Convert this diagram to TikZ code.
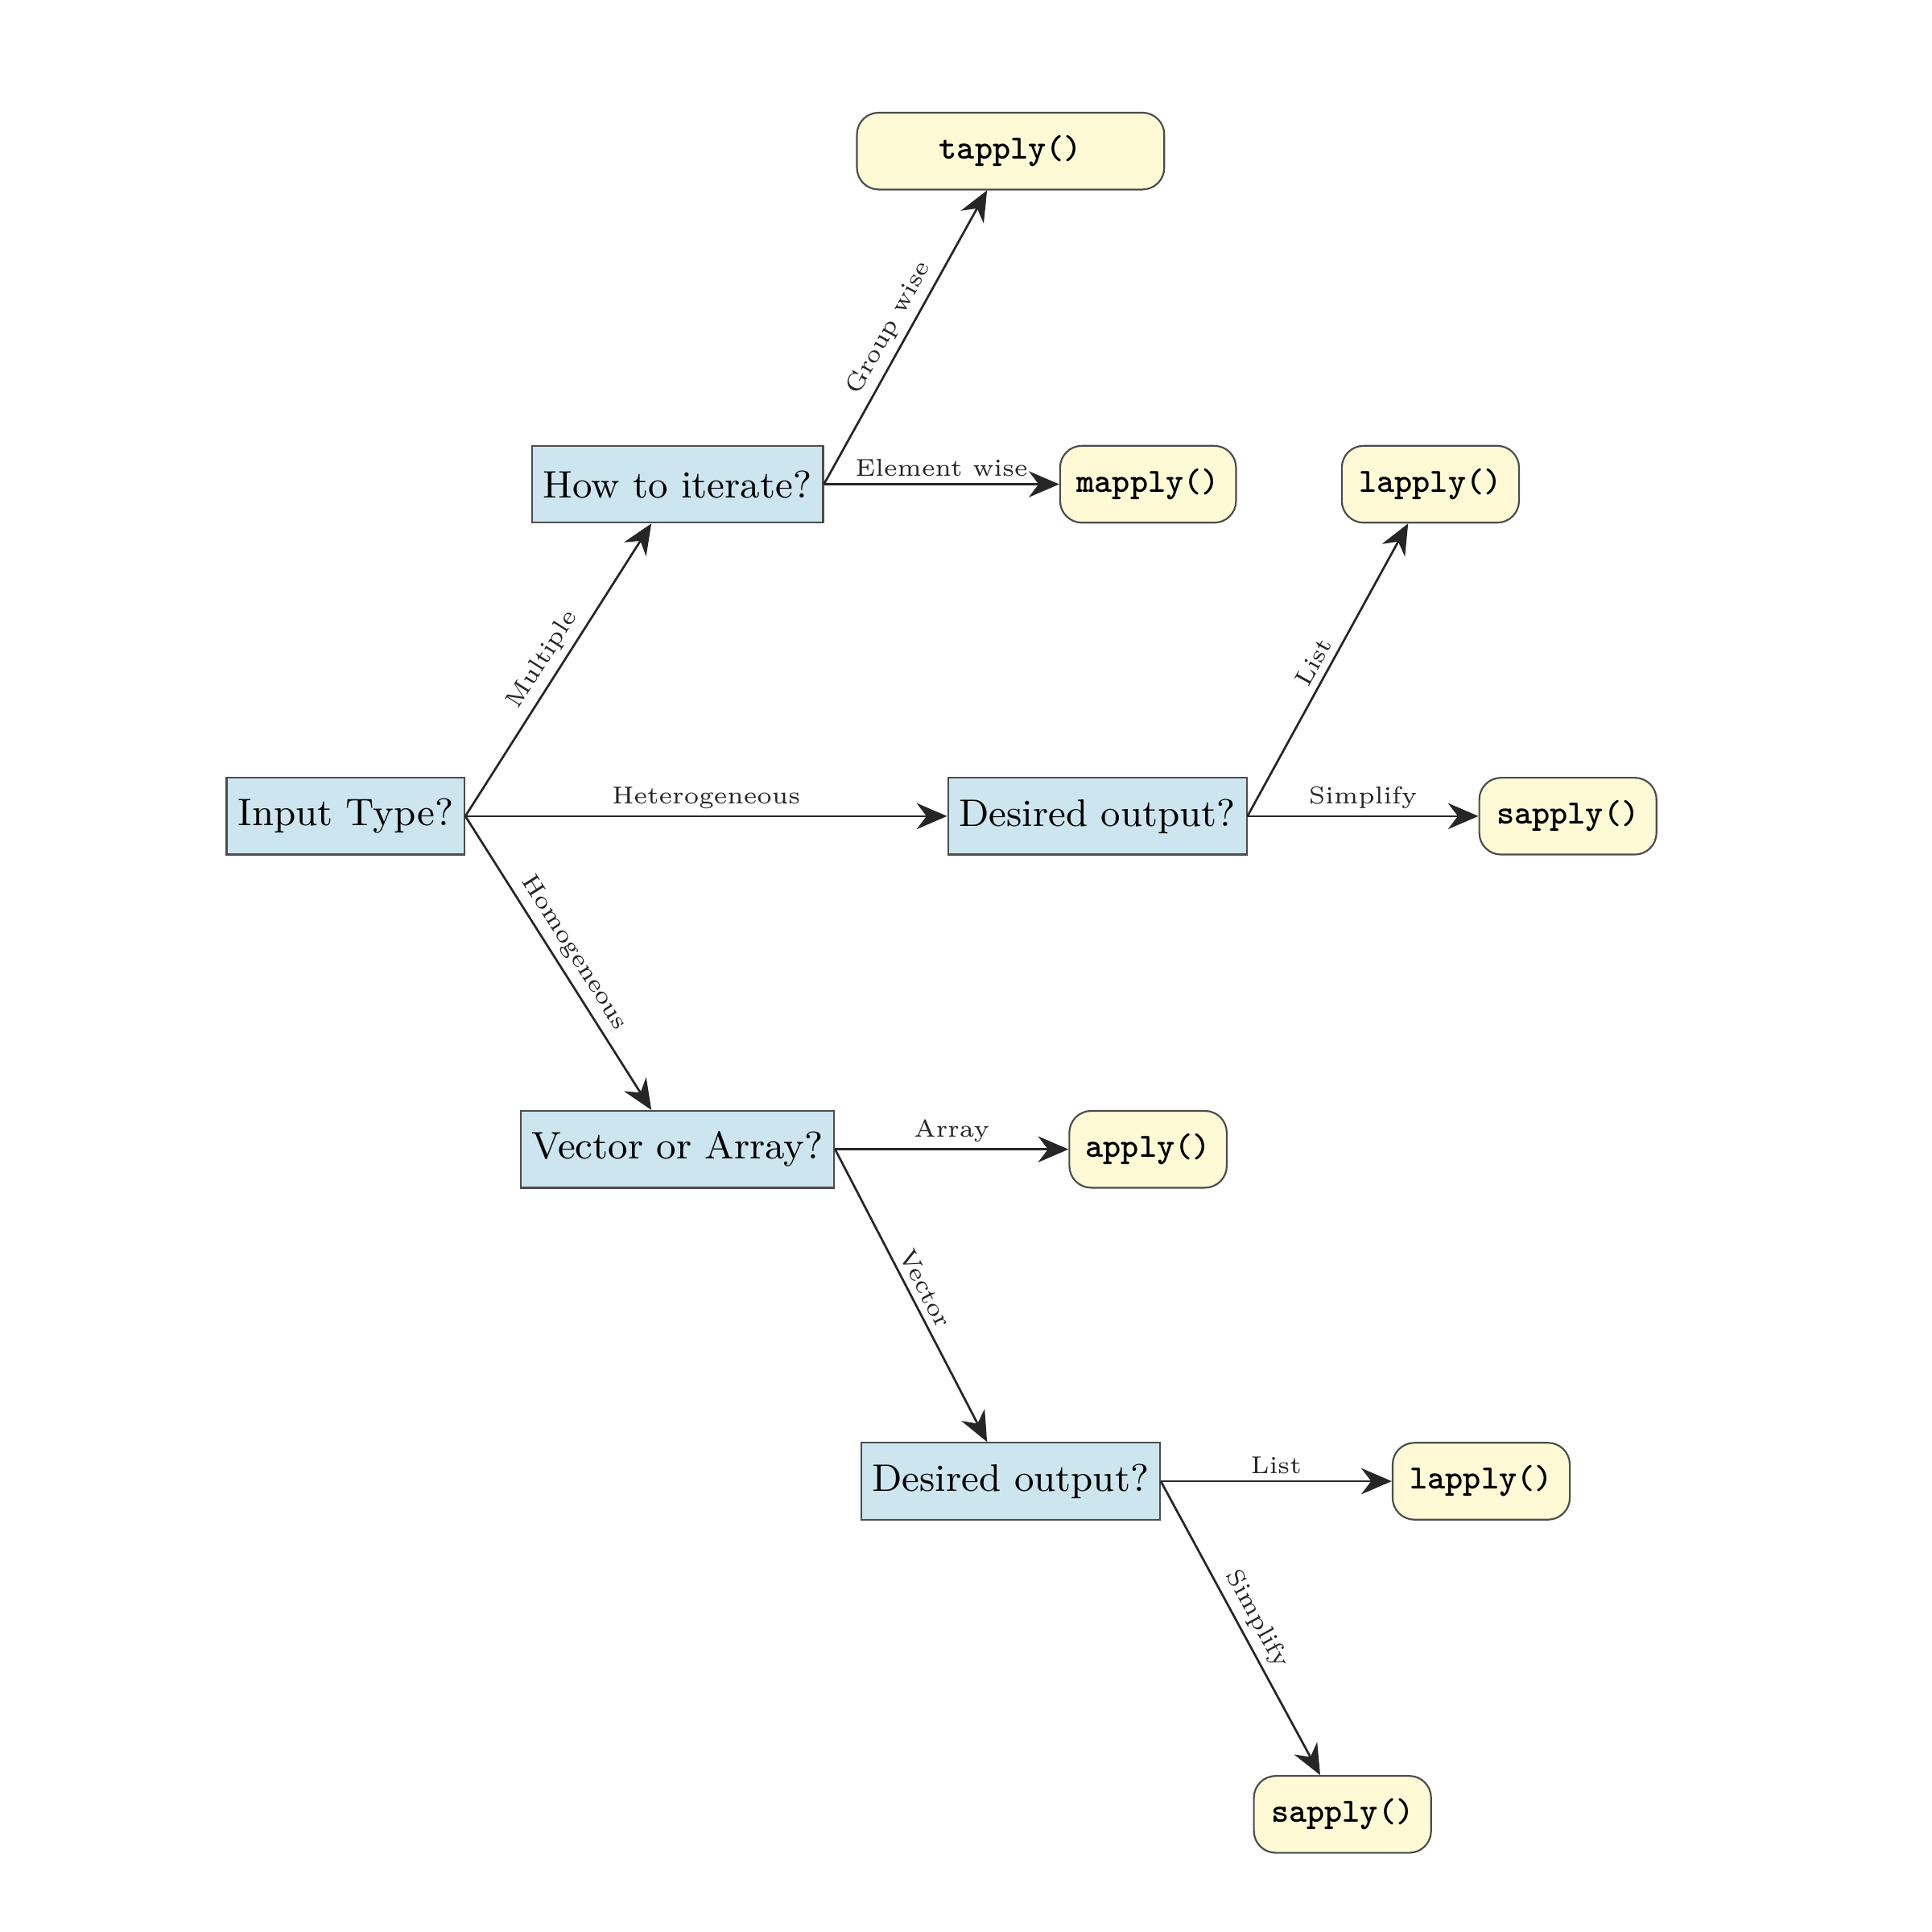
\documentclass[tikz,border=0pt]{standalone}
\usetikzlibrary{arrows.meta,calc}
\begin{document}
\begin{tikzpicture}[x=0.01cm,y=-0.01cm,
 q/.style={draw=black!70,fill={rgb,255:red,205;green,229;blue,238},minimum height=0.62cm,inner xsep=1pt,font=\fontsize{8.8}{10}\selectfont},
 fn/.style={draw=black!70,fill={rgb,255:red,255;green,250;blue,214},rounded corners=5pt,minimum height=0.62cm,inner xsep=1pt,font=\fontsize{7.8}{9}\selectfont\ttfamily\bfseries},
 arr/.style={-{Stealth[length=7pt,width=6pt]},black!85,line width=0.5pt},
 lab/.style={font=\fontsize{5.6}{6.5}\selectfont,above,sloped,midway,inner sep=1.5pt}]
\useasboundingbox (0,0) rectangle (1560,1560);
\node[q,minimum width=1.92cm] (in) at (279,659) {Input Type?};
\node[q,minimum width=2.35cm] (how) at (547,391) {How to iterate?};
\node[q,minimum width=2.41cm] (d1) at (886,659) {Desired output?};
\node[q,minimum width=2.53cm] (va) at (547,928) {Vector or Array?};
\node[q,minimum width=2.41cm] (d2) at (816,1196) {Desired output?};
\node[fn,minimum width=2.48cm] (t) at (816,122) {tapply()};
\node[fn,minimum width=1.42cm] (m) at (927,391) {mapply()};
\node[fn,minimum width=1.43cm] (l1) at (1155,391) {lapply()};
\node[fn,minimum width=1.43cm] (s1) at (1266,659) {sapply()};
\node[fn,minimum width=1.27cm] (a) at (927,928) {apply()};
\node[fn,minimum width=1.43cm] (l2) at (1196,1196) {lapply()};
\node[fn,minimum width=1.43cm] (s2) at (1084,1465) {sapply()};
\draw[arr] (in.east) -- ([xshift=-0.21cm]how.south) node[lab]{Multiple};
\draw[arr] (in.east) -- (d1.west) node[lab]{Heterogeneous};
\draw[arr] (in.east) -- ([xshift=-0.21cm]va.north) node[lab]{Homogeneous};
\draw[arr] (how.east) -- ([xshift=-0.19cm]t.south) node[lab]{Group wise};
\draw[arr] (how.east) -- (m.west) node[lab]{Element wise};
\draw[arr] (d1.east) -- ([xshift=-0.18cm]l1.south) node[lab]{List};
\draw[arr] (d1.east) -- (s1.west) node[lab]{Simplify};
\draw[arr] (va.east) -- (a.west) node[lab]{Array};
\draw[arr] (va.east) -- ([xshift=-0.19cm]d2.north) node[lab]{Vector};
\draw[arr] (d2.east) -- (l2.west) node[lab]{List};
\draw[arr] (d2.east) -- ([xshift=-0.18cm]s2.north) node[lab]{Simplify};
\end{tikzpicture}
\end{document}
